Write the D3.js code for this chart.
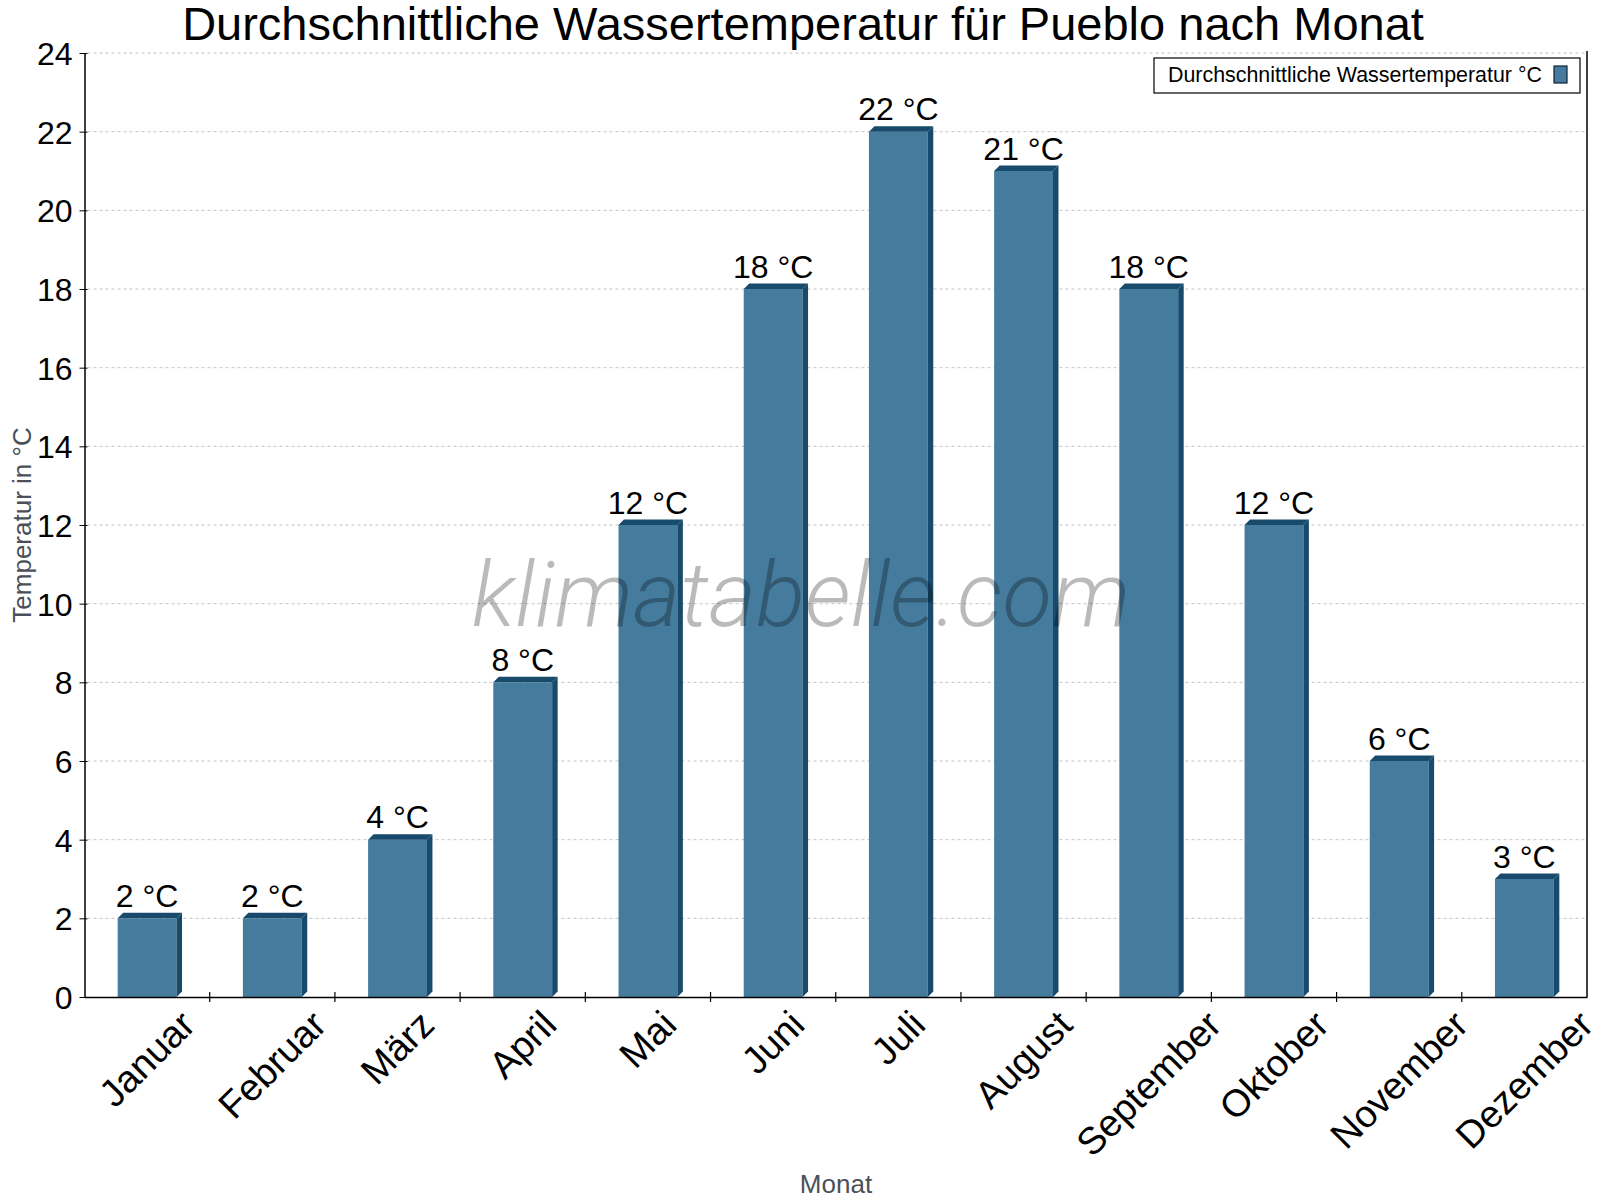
<!DOCTYPE html>
<html>
<head>
<meta charset="utf-8">
<script src="https://cdn.jsdelivr.net/npm/d3@7"></script>
<style>
  body { margin: 0; background: #fff; }
  text { font-family: "Liberation Sans", Arial, sans-serif; }
</style>
</head>
<body>
<div id="chart"></div>
<script>
// data
var months = ["Januar", "Februar", "März", "April", "Mai", "Juni", "Juli", "August", "September", "Oktober", "November", "Dezember"];
var waterTemp = [2, 2, 4, 8, 12, 18, 22, 21, 18, 12, 6, 3];
var yTicks = [0, 2, 4, 6, 8, 10, 12, 14, 16, 18, 20, 22, 24];
var seriesName = "Durchschnittliche Wassertemperatur °C";

var W = 1600, H = 1200;
var plot = {left: 84.5, right: 1587, top: 53, bottom: 997};
var front = "#457b9d", dark = "#174a6b", depth = 5.5;

var svg = d3.select("#chart").append("svg")
    .attr("width", W)
    .attr("height", H);

var x = d3.scaleBand()
    .domain(months)
    .range([plot.left, plot.right]);

var y = d3.scaleLinear()
    .domain([0, 24])
    .range([plot.bottom, plot.top]);

var barW = x.bandwidth() * 0.47;

// grid lines
svg.append("g")
  .selectAll("line")
  .data(yTicks.filter(function(d) { return d > 0; }))
  .enter().append("line")
    .attr("x1", plot.left + 3)
    .attr("x2", plot.right)
    .attr("y1", function(d) { return y(d); })
    .attr("y2", function(d) { return y(d); })
    .attr("stroke", "#c4c4c4")
    .attr("stroke-width", 1)
    .attr("stroke-dasharray", "3,3");

// bars (front, top and side faces)
var bars = svg.append("g").selectAll("g")
  .data(months.map(function(m, i) { return {month: m, value: waterTemp[i]}; }))
  .enter().append("g");

function barX(d) { return x(d.month) + (x.bandwidth() - barW) / 2; }

bars.append("rect")
    .attr("x", barX)
    .attr("y", function(d) { return y(d.value); })
    .attr("width", barW)
    .attr("height", function(d) { return y(0) - y(d.value); })
    .attr("fill", front);

// top face
bars.append("path")
    .attr("fill", dark)
    .attr("d", function(d) {
      var x0 = barX(d), x1 = x0 + barW, t = y(d.value);
      return "M" + x0 + "," + t + "L" + (x0 + depth) + "," + (t - depth) +
             "L" + (x1 + depth) + "," + (t - depth) + "L" + x1 + "," + t + "Z";
    });

// side face
bars.append("path")
    .attr("fill", dark)
    .attr("d", function(d) {
      var x1 = barX(d) + barW, t = y(d.value), b = y(0);
      return "M" + x1 + "," + t + "L" + (x1 + depth) + "," + (t - depth) +
             "L" + (x1 + depth) + "," + (b - depth) + "L" + x1 + "," + b + "Z";
    });

// value labels
bars.append("text")
    .attr("x", function(d) { return x(d.month) + x.bandwidth() / 2; })
    .attr("y", function(d) { return y(d.value) - depth - 6; })
    .attr("text-anchor", "middle")
    .style("font-size", "32px")
    .attr("fill", "#000")
    .text(function(d) { return d.value + " °C"; });

// y axis
var yAxis = svg.append("g")
    .attr("transform", "translate(" + plot.left + ",0)")
    .call(d3.axisLeft(y).tickValues(yTicks).tickSize(5).tickSizeOuter(0));
yAxis.select(".domain").attr("stroke", "#000").attr("stroke-width", 1.5);
yAxis.selectAll(".tick line").attr("x2", 3).attr("x1", -5).attr("stroke", "#000");
yAxis.selectAll(".tick text")
    .attr("x", -12)
    .attr("dy", "0.36em")
    .style("font-size", "32px")
    .style("font-family", "'Liberation Sans', Arial, sans-serif")
    .attr("fill", "#000");

// x axis: rotated labels, end on a fixed line, shifted right by half their slant width
var xAxis = svg.append("g")
    .attr("transform", "translate(0," + plot.bottom + ")")
    .call(d3.axisBottom(x).tickSize(0).tickSizeOuter(0));
xAxis.select(".domain").attr("stroke", "#000").attr("stroke-width", 1.5);
xAxis.selectAll(".tick text")
    .style("font-size", "38px")
    .style("font-family", "'Liberation Sans', Arial, sans-serif")
    .attr("fill", "#000")
    .attr("text-anchor", "end")
    .attr("dy", null)
    .attr("y", 0)
    .attr("transform", function() {
      var w = this.getComputedTextLength();
      return "translate(" + (9 + w * 0.354) + ",30) rotate(-45)";
    });

// boundary ticks between months
svg.append("g")
  .selectAll("line")
  .data(months.slice(1))
  .enter().append("line")
    .attr("x1", function(d) { return x(d); })
    .attr("x2", function(d) { return x(d); })
    .attr("y1", plot.bottom - 5)
    .attr("y2", plot.bottom + 5)
    .attr("stroke", "#000")
    .attr("stroke-width", 1.2);

// right border
svg.append("line")
    .attr("x1", plot.right).attr("x2", plot.right)
    .attr("y1", plot.top - 2).attr("y2", plot.bottom)
    .attr("stroke", "#000").attr("stroke-width", 1.5);

// watermark
svg.append("text")
    .attr("x", 801)
    .attr("y", 626)
    .attr("text-anchor", "middle")
    .style("font-family", "Roboto, sans-serif")
    .style("font-weight", 300)
    .style("font-style", "italic")
    .style("font-size", "91px")
    .attr("fill", "#000")
    .attr("fill-opacity", 0.27)
    .text("klimatabelle.com");

// title
svg.append("text")
    .attr("x", 803)
    .attr("y", 40)
    .attr("text-anchor", "middle")
    .style("font-size", "47px")
    .attr("fill", "#000")
    .text("Durchschnittliche Wassertemperatur für Pueblo nach Monat");

// axis titles
svg.append("text")
    .attr("transform", "translate(31,525) rotate(-90)")
    .attr("text-anchor", "middle")
    .style("font-size", "26px")
    .attr("fill", "#4a5058")
    .text("Temperatur in °C");

svg.append("text")
    .attr("x", 836)
    .attr("y", 1193)
    .attr("text-anchor", "middle")
    .style("font-size", "26px")
    .attr("fill", "#4a5058")
    .text("Monat");

// legend
var legend = svg.append("g");
legend.append("rect")
    .attr("x", 1154).attr("y", 58)
    .attr("width", 426).attr("height", 35)
    .attr("fill", "#fff")
    .attr("stroke", "#000")
    .attr("stroke-width", 1.2);
legend.append("text")
    .attr("x", 1168).attr("y", 82)
    .style("font-size", "21.4px")
    .attr("fill", "#000")
    .text(seriesName);
legend.append("rect")
    .attr("x", 1554).attr("y", 66)
    .attr("width", 13).attr("height", 17)
    .attr("fill", front)
    .attr("stroke", "#0d2233")
    .attr("stroke-width", 1.2);
</script>
</body>
</html>
